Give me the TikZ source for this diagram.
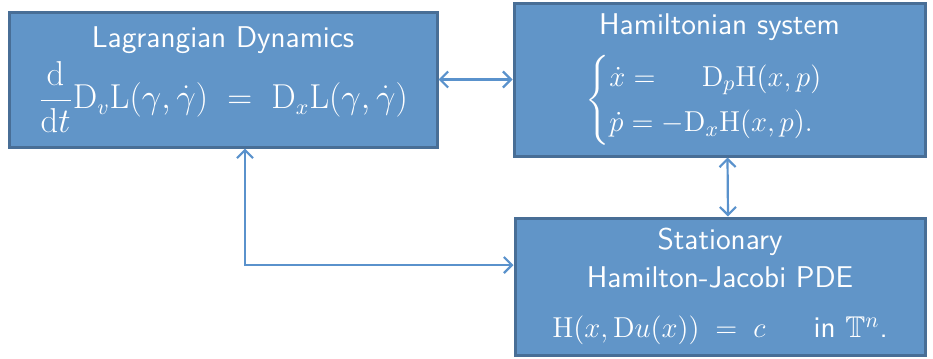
\documentclass[tikz,border=0pt]{standalone}
\usepackage{amsmath,amssymb}
\renewcommand{\familydefault}{\sfdefault}
\usetikzlibrary{arrows.meta,calc}
\definecolor{boxfill}{RGB}{97,149,200}
\definecolor{boxline}{RGB}{72,110,150}
\definecolor{linkblue}{RGB}{90,146,204}

\begin{document}
\begin{tikzpicture}[
  x=0.5pt, y=-0.5pt,
  block/.style={draw=boxline, fill=boxfill, line width=1.5pt, text=white,
    align=center, inner sep=0pt, font=\fontsize{15}{19}\selectfont},
  link/.style={{Straight Barb[length=4pt,width=8pt]}-{Straight Barb[length=4pt,width=8pt]},
    linkblue, line width=1.1pt},
]
\useasboundingbox (0,0) rectangle (933,359);

% --- Lagrangian side ---
\node[block, minimum width=214pt, minimum height=67.5pt] (lag) at (223,79.5)
  {Lagrangian Dynamics\\[3pt]
   {\fontsize{16}{19}\selectfont$\dfrac{\mathrm{d}}{\mathrm{d}t}\mathrm{D}_v\mathrm{L}(\gamma,\dot\gamma)\;=\;\mathrm{D}_x\mathrm{L}(\gamma,\dot\gamma)$}};

% --- Hamiltonian side ---
\node[block, minimum width=205.5pt, minimum height=76.5pt] (ham) at (719.5,79.5)
  {Hamiltonian system\\[6pt]
   $\begin{cases}\dot x=\phantom{-}\;\;\mathrm{D}_p\mathrm{H}(x,p)\\ \dot p=-\mathrm{D}_x\mathrm{H}(x,p).\end{cases}$};

% --- Hamilton-Jacobi ---
\node[block, minimum width=205pt, minimum height=68.5pt] (hj) at (720,286.5)
  {Stationary\\
   Hamilton-Jacobi PDE\\[6pt]
   $\mathrm{H}(x,\mathrm{D}u(x))\;=\;c$\quad\; in $\mathbb{T}^n$.};

% links
\draw[link] (lag) -- (ham);
\draw[link] ([xshift=4pt]ham.south) -- ([xshift=4pt]hj.north);
\draw[link] ([xshift=11pt]lag.south) |- ([yshift=10.75pt]hj.west);

\end{tikzpicture}
\end{document}
